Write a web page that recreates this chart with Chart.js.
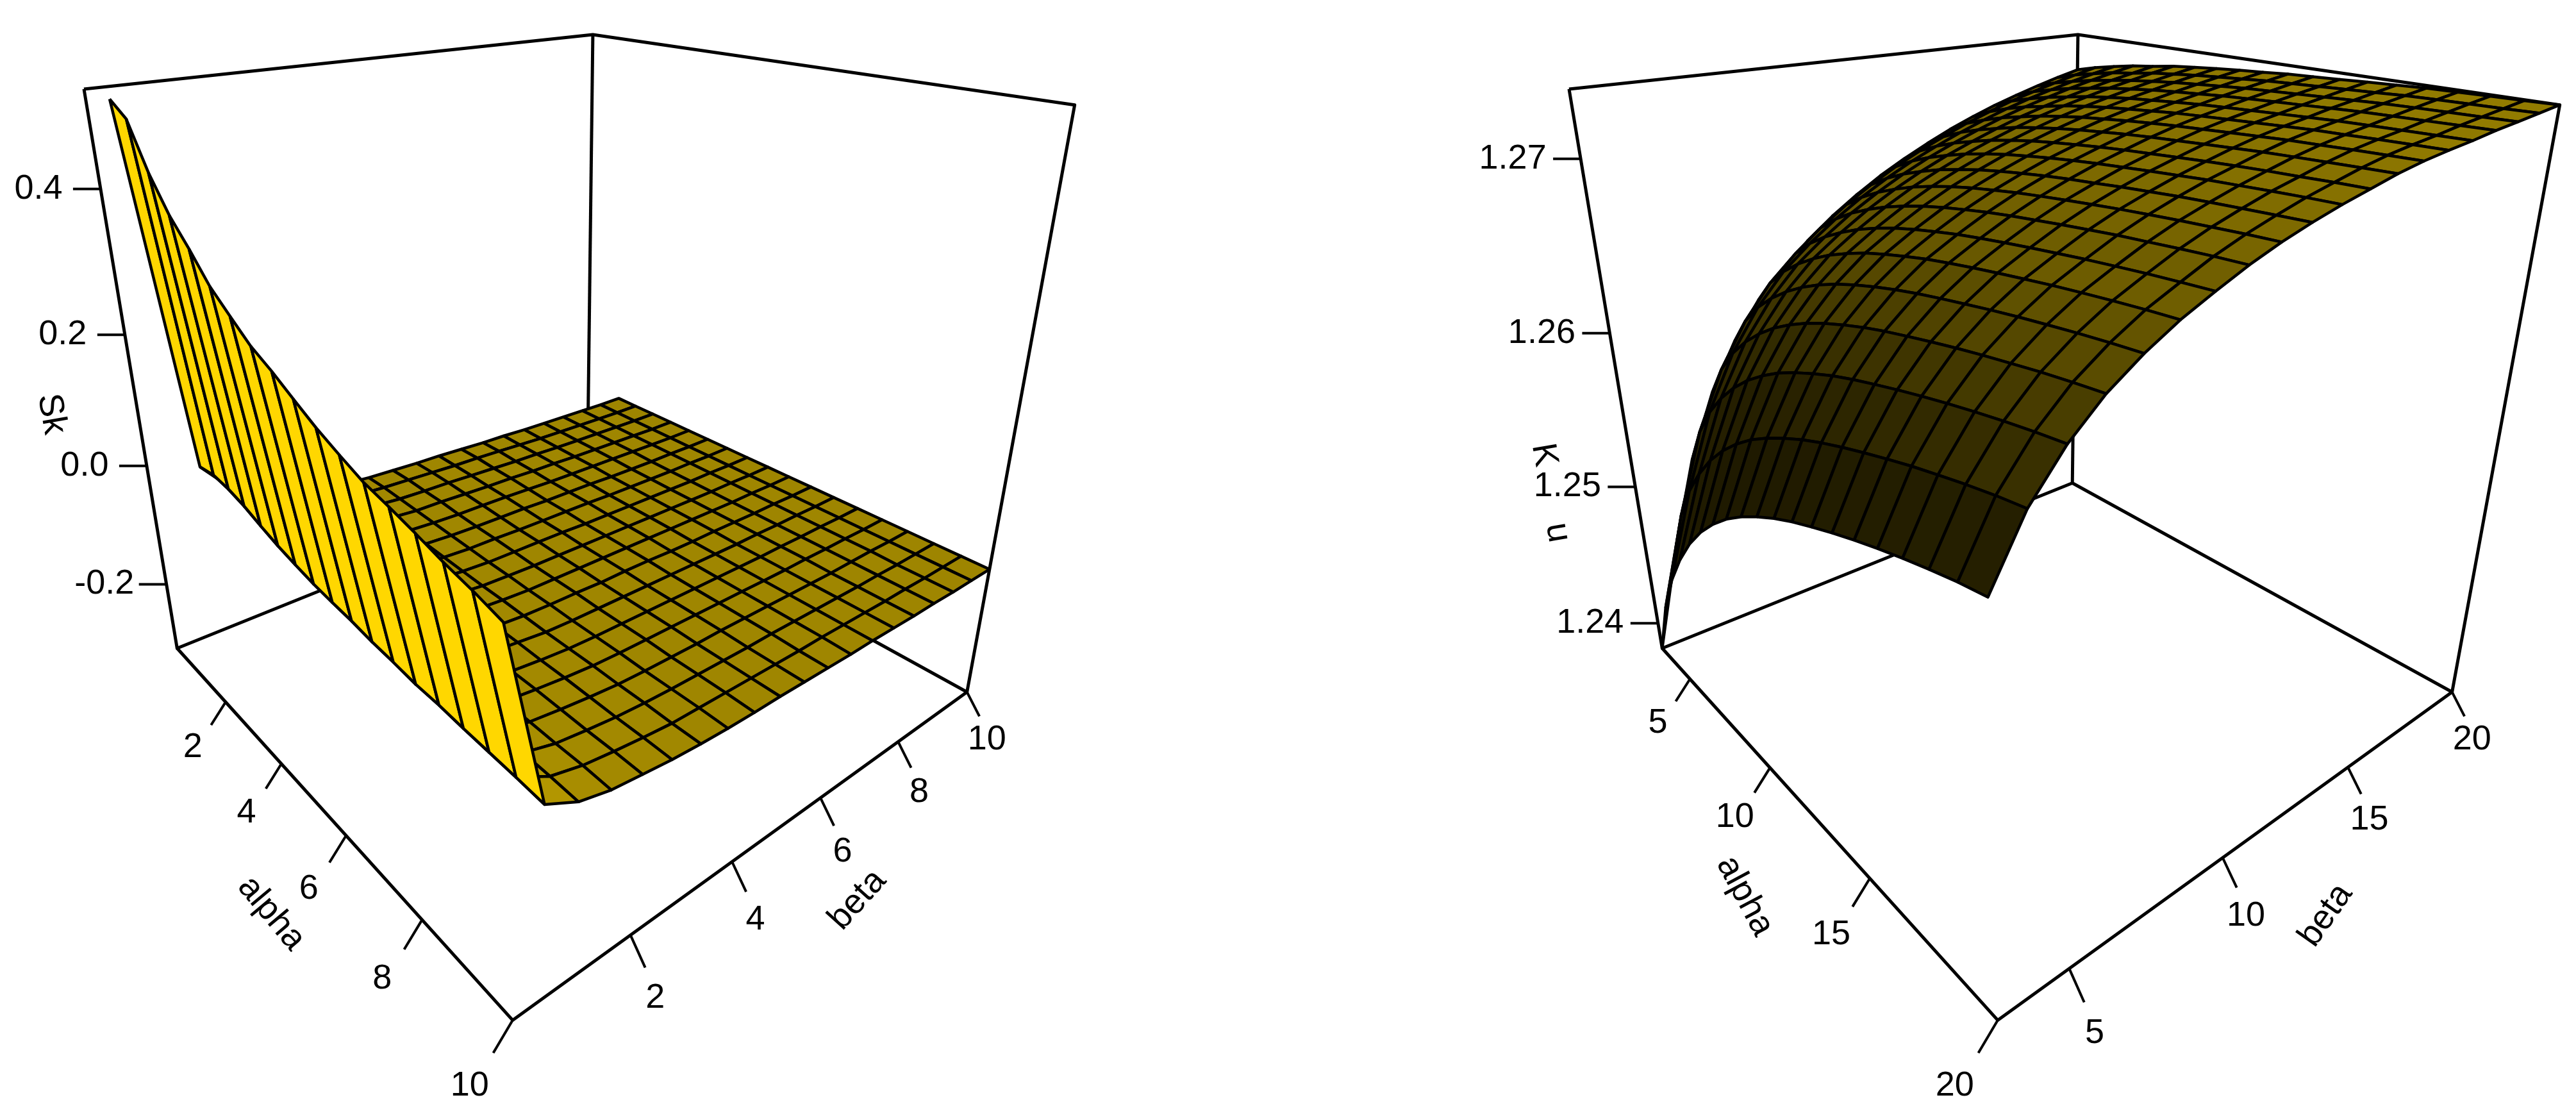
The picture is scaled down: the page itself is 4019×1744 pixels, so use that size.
<!DOCTYPE html>
<html>
<head>
<meta charset="utf-8">
<title>Sk and Ku surfaces</title>
<style>
body{margin:0;background:#fff}
canvas{position:absolute;top:0}
</style>
<script src="https://cdn.jsdelivr.net/npm/chart.js@4"></script>
</head>
<body>
<canvas id="skChart" width="2200" height="1744" style="left:0"></canvas>
<canvas id="kuChart" width="1819" height="1744" style="left:2200px"></canvas>
<script>
const skAlpha = [1,1.53,2.06,2.59,3.12,3.65,4.18,4.71,5.24,5.76,6.29,6.82,7.35,7.88,8.41,8.94,9.47,10];
const skBeta = [0,0.53,1.05,1.58,2.11,2.63,3.16,3.68,4.21,4.74,5.26,5.79,6.32,6.84,7.37,7.89,8.42,8.95,9.47,10];
const kuAlpha = [3,3.89,4.79,5.68,6.58,7.47,8.37,9.26,10.16,11.05,11.95,12.84,13.74,14.63,15.53,16.42,17.32,18.21,19.11,20];
const kuBeta = [3,3.89,4.79,5.68,6.58,7.47,8.37,9.26,10.16,11.05,11.95,12.84,13.74,14.63,15.53,16.42,17.32,18.21,19.11,20];

// one row per beta, one column per alpha
const skValues = [
  [.524,.507,.452,.411,.381,.348,.325,.303,.288,.271,.254,.240,.227,.219,.210,.200,.192,.182],
  [.017,.022,.019,.012,.002,-.007,-.014,-.020,-.024,-.027,-.032,-.035,-.039,-.040,-.043,-.045,-.047,-.050],
  [-.034,-.031,-.033,-.037,-.043,-.048,-.052,-.056,-.058,-.060,-.063,-.064,-.067,-.067,-.069,-.070,-.071,-.073],
  [-.057,-.055,-.056,-.059,-.063,-.066,-.069,-.072,-.073,-.074,-.076,-.078,-.079,-.080,-.081,-.082,-.082,-.084],
  [-.069,-.068,-.069,-.071,-.074,-.076,-.078,-.080,-.081,-.082,-.084,-.085,-.086,-.086,-.087,-.088,-.088,-.089],
  [-.079,-.078,-.079,-.080,-.082,-.084,-.086,-.087,-.088,-.089,-.090,-.090,-.091,-.091,-.092,-.093,-.093,-.094],
  [-.086,-.086,-.086,-.087,-.089,-.090,-.091,-.092,-.093,-.093,-.094,-.095,-.095,-.095,-.096,-.096,-.097,-.097],
  [-.090,-.089,-.090,-.091,-.092,-.093,-.094,-.095,-.095,-.096,-.096,-.097,-.097,-.097,-.098,-.098,-.098,-.099],
  [-.092,-.091,-.092,-.092,-.094,-.095,-.095,-.096,-.097,-.097,-.097,-.098,-.098,-.098,-.099,-.099,-.099,-.100],
  [-.094,-.093,-.093,-.094,-.095,-.096,-.097,-.097,-.098,-.098,-.099,-.099,-.099,-.099,-.100,-.100,-.100,-.100],
  [-.095,-.095,-.095,-.096,-.096,-.097,-.098,-.098,-.099,-.099,-.099,-.100,-.100,-.100,-.100,-.101,-.101,-.101],
  [-.097,-.096,-.097,-.097,-.098,-.099,-.099,-.100,-.100,-.100,-.100,-.101,-.101,-.101,-.101,-.101,-.102,-.102],
  [-.099,-.098,-.099,-.099,-.100,-.100,-.100,-.101,-.101,-.101,-.102,-.102,-.102,-.102,-.102,-.102,-.102,-.103],
  [-.100,-.100,-.100,-.100,-.101,-.101,-.102,-.102,-.102,-.102,-.103,-.103,-.103,-.103,-.103,-.103,-.103,-.103],
  [-.102,-.102,-.102,-.102,-.102,-.103,-.103,-.103,-.103,-.103,-.103,-.104,-.104,-.104,-.104,-.104,-.104,-.104],
  [-.103,-.103,-.103,-.103,-.103,-.104,-.104,-.104,-.104,-.104,-.104,-.104,-.104,-.104,-.105,-.105,-.105,-.105],
  [-.104,-.104,-.104,-.104,-.104,-.105,-.105,-.105,-.105,-.105,-.105,-.105,-.105,-.105,-.105,-.105,-.105,-.105],
  [-.105,-.105,-.105,-.105,-.105,-.105,-.105,-.105,-.105,-.105,-.105,-.105,-.105,-.105,-.105,-.106,-.106,-.106],
  [-.106,-.106,-.106,-.106,-.106,-.106,-.106,-.106,-.106,-.106,-.106,-.106,-.106,-.106,-.106,-.106,-.106,-.106],
  [-.106,-.106,-.106,-.106,-.106,-.106,-.106,-.106,-.106,-.106,-.106,-.106,-.106,-.106,-.106,-.106,-.106,-.106]
];

const kuValues = [
  [1.23804,1.24214,1.24516,1.24748,1.24944,1.25104,1.25239,1.25353,1.25450,1.25532,1.25606,1.25670,1.25727,1.25781,1.25831,1.25877,1.25920,1.25959,1.25995,1.26023],
  [1.24481,1.24815,1.25063,1.25253,1.25414,1.25546,1.25658,1.25753,1.25833,1.25902,1.25965,1.26019,1.26068,1.26113,1.26156,1.26196,1.26232,1.26266,1.26297,1.26322],
  [1.25058,1.25325,1.25523,1.25675,1.25803,1.25909,1.25998,1.26074,1.26137,1.26192,1.26242,1.26284,1.26322,1.26358,1.26392,1.26423,1.26452,1.26478,1.26502,1.26522],
  [1.25464,1.25684,1.25847,1.25973,1.26078,1.26166,1.26239,1.26301,1.26354,1.26399,1.26440,1.26475,1.26506,1.26535,1.26563,1.26588,1.26611,1.26633,1.26652,1.26668],
  [1.25763,1.25949,1.26087,1.26193,1.26282,1.26356,1.26418,1.26471,1.26515,1.26553,1.26587,1.26617,1.26643,1.26667,1.26691,1.26712,1.26731,1.26749,1.26765,1.26778],
  [1.25988,1.26148,1.26267,1.26359,1.26436,1.26501,1.26554,1.26600,1.26638,1.26671,1.26702,1.26727,1.26750,1.26771,1.26791,1.26810,1.26827,1.26842,1.26856,1.26867],
  [1.26155,1.26297,1.26402,1.26484,1.26552,1.26610,1.26658,1.26699,1.26733,1.26762,1.26790,1.26812,1.26833,1.26852,1.26870,1.26887,1.26902,1.26916,1.26928,1.26939],
  [1.26297,1.26424,1.26518,1.26592,1.26653,1.26705,1.26748,1.26785,1.26816,1.26843,1.26868,1.26889,1.26908,1.26926,1.26943,1.26959,1.26972,1.26985,1.26997,1.27006],
  [1.26422,1.26535,1.26619,1.26685,1.26740,1.26788,1.26827,1.26861,1.26889,1.26913,1.26936,1.26955,1.26973,1.26989,1.27005,1.27019,1.27032,1.27043,1.27054,1.27063],
  [1.26529,1.26630,1.26706,1.26766,1.26815,1.26858,1.26893,1.26924,1.26950,1.26972,1.26993,1.27011,1.27026,1.27042,1.27056,1.27070,1.27081,1.27091,1.27101,1.27110],
  [1.26625,1.26716,1.26784,1.26838,1.26882,1.26922,1.26954,1.26982,1.27005,1.27026,1.27045,1.27061,1.27076,1.27090,1.27103,1.27116,1.27126,1.27136,1.27145,1.27152],
  [1.26707,1.26789,1.26850,1.26899,1.26939,1.26976,1.27005,1.27031,1.27052,1.27071,1.27089,1.27104,1.27117,1.27130,1.27143,1.27154,1.27164,1.27172,1.27181,1.27188],
  [1.26782,1.26855,1.26911,1.26956,1.26992,1.27027,1.27053,1.27077,1.27097,1.27114,1.27131,1.27145,1.27157,1.27169,1.27181,1.27192,1.27201,1.27209,1.27217,1.27224],
  [1.26850,1.26916,1.26966,1.27007,1.27040,1.27071,1.27095,1.27117,1.27135,1.27152,1.27167,1.27180,1.27191,1.27202,1.27213,1.27224,1.27231,1.27239,1.27246,1.27252],
  [1.26910,1.26969,1.27015,1.27052,1.27081,1.27110,1.27132,1.27152,1.27168,1.27183,1.27198,1.27209,1.27219,1.27229,1.27239,1.27249,1.27255,1.27262,1.27268,1.27273],
  [1.26963,1.27017,1.27058,1.27091,1.27118,1.27144,1.27164,1.27183,1.27197,1.27211,1.27224,1.27234,1.27243,1.27252,1.27261,1.27270,1.27276,1.27281,1.27286,1.27291],
  [1.27010,1.27058,1.27095,1.27127,1.27151,1.27176,1.27194,1.27211,1.27225,1.27237,1.27250,1.27259,1.27268,1.27276,1.27285,1.27293,1.27298,1.27303,1.27308,1.27313],
  [1.27053,1.27096,1.27130,1.27159,1.27181,1.27204,1.27221,1.27237,1.27249,1.27261,1.27273,1.27281,1.27289,1.27297,1.27305,1.27313,1.27318,1.27322,1.27326,1.27330],
  [1.27092,1.27131,1.27162,1.27189,1.27208,1.27231,1.27246,1.27261,1.27273,1.27284,1.27295,1.27303,1.27310,1.27318,1.27325,1.27333,1.27337,1.27341,1.27344,1.27348],
  [1.27127,1.27163,1.27191,1.27216,1.27234,1.27256,1.27270,1.27284,1.27295,1.27305,1.27316,1.27323,1.27330,1.27338,1.27345,1.27352,1.27355,1.27359,1.27362,1.27366]
];

const skAlphaTicks = [2,4,6,8,10];
const skBetaTicks = [2,4,6,8,10];
const skZTicks = [-0.2,0,0.2,0.4];
const kuAlphaTicks = [5,10,15,20];
const kuBetaTicks = [5,10,15,20];
const kuZTicks = [1.24,1.25,1.26,1.27];

// camera of the 3d box, box coordinates 0..1 to page pixels
const view = [264.47876,888.17708,-171.15552,276.33106,64.83125,-53.60753,-899.71812,1011.29655,-0.3238,0.27098,-0.19698];

function project(u, v, w) {
  const d = view[8]*u + view[9]*v + view[10]*w + 1;
  return {
    x: (view[0]*u + view[1]*v + view[2]*w + view[3]) / d,
    y: (view[4]*u + view[5]*v + view[6]*w + view[7]) / d
  };
}

function drawPanel(id, cfg) {
  const U = a => (a - cfg.aLim[0]) / (cfg.aLim[1] - cfg.aLim[0]);
  const V = b => (b - cfg.bLim[0]) / (cfg.bLim[1] - cfg.bLim[0]);
  const W = z => (z - cfg.zLim[0]) / (cfg.zLim[1] - cfg.zLim[0]);
  const datasets = [];
  const labels = [];
  let behind = 0, front = 0;

  const addLine = (data, width) => datasets.push({
    data, showLine: true, borderColor: '#000', borderWidth: width, pointRadius: 0, fill: false,
    borderJoinStyle: 'round', order: 100000 - behind++
  });

  // box
  addLine([project(0,0,1), project(0,1,1), project(1,1,1), project(1,1,0), project(0,1,0), project(0,0,0), project(0,0,1)], 5);
  addLine([project(0,1,0), project(0,1,1)], 5);
  addLine([project(0,0,0), project(1,0,0), project(1,1,0)], 5);

  // ticks
  cfg.aTicks.forEach(a => {
    addLine([project(U(a),0,0), project(U(a),-0.031,-0.033)], 4);
    const p = project(U(a),-0.068,-0.061);
    labels.push({text: String(a), x: p.x, y: p.y, rot: 0});
  });
  cfg.bTicks.forEach(b => {
    addLine([project(1,V(b),0), project(1.03,V(b),-0.034)], 4);
    const p = project(1.051,V(b),-0.072);
    labels.push({text: String(b), x: p.x, y: p.y, rot: 0});
  });
  cfg.zTicks.forEach(z => {
    const p = project(0,0,W(z));
    addLine([p, {x: p.x - 43, y: p.y}], 4);
    labels.push({text: z.toFixed(cfg.zDigits), x: p.x - cfg.zLabelGap, y: p.y, rot: 0});
  });
  cfg.titles.forEach(t => labels.push(t));

  // surface, far cells first
  const g = cfg.values;
  for (let j = cfg.beta.length - 2; j >= 0; j--) {
    for (let i = 0; i < cfg.alpha.length - 1; i++) {
      const cell = [[i,j],[i+1,j],[i+1,j+1],[i,j+1],[i,j]].map(([p,q]) => project(U(cfg.alpha[p]), V(cfg.beta[q]), W(g[q][p])));
      const du = (W(g[j][i+1]) + W(g[j+1][i+1]) - W(g[j][i]) - W(g[j+1][i])) / 2 / (U(cfg.alpha[i+1]) - U(cfg.alpha[i]));
      const dv = (W(g[j+1][i]) + W(g[j+1][i+1]) - W(g[j][i]) - W(g[j][i+1])) / 2 / (V(cfg.beta[j+1]) - V(cfg.beta[j]));
      let cos = -dv * cfg.slope / Math.hypot(du * cfg.slope, dv * cfg.slope, 1);
      if (cos > 0) cos = Math.min(1, cos * 1.2);
      const shade = Math.pow((1 + cos) / 2, 0.69);
      datasets.push({
        data: cell, showLine: true, borderColor: '#000', borderWidth: 4.5, pointRadius: 0,
        fill: 'shape', backgroundColor: `rgb(${Math.round(255*shade)},${Math.round(215*shade)},0)`,
        borderJoinStyle: 'round', order: 50000 - front++
      });
    }
  }

  new Chart(document.getElementById(id), {
    type: 'scatter',
    data: {datasets},
    plugins: [{
      id: 'axisText',
      afterDatasetsDraw(chart) {
        const ctx = chart.ctx;
        ctx.save();
        ctx.fillStyle = '#000';
        ctx.textAlign = 'center';
        ctx.textBaseline = 'middle';
        ctx.font = '54px "Liberation Sans"';
        labels.forEach(l => {
          ctx.save();
          ctx.translate(chart.scales.x.getPixelForValue(l.x), chart.scales.y.getPixelForValue(l.y));
          ctx.rotate(l.rot * Math.PI / 180);
          ctx.fillText(l.text, 0, 0);
          ctx.restore();
        });
        ctx.restore();
      }
    }],
    options: {
      responsive: false,
      devicePixelRatio: 1,
      animation: false,
      events: [],
      layout: {padding: 0},
      plugins: {legend: {display: false}, tooltip: {enabled: false}},
      scales: {
        x: {type: 'linear', display: false, min: cfg.xRange[0], max: cfg.xRange[1]},
        y: {type: 'linear', display: false, min: 0, max: 1744, reverse: true}
      }
    }
  });
}

drawPanel('skChart', {
  alpha: skAlpha, beta: skBeta, values: skValues,
  aLim: [0,10], bLim: [0,10], zLim: [-0.3166,0.525],
  aTicks: skAlphaTicks, bTicks: skBetaTicks, zTicks: skZTicks,
  zDigits: 1, zLabelGap: 97, slope: 0.3, xRange: [0,2200],
  titles: [
    {text: 'Sk', x: 80, y: 646, rot: 80},
    {text: 'alpha', x: 423, y: 1425, rot: 50},
    {text: 'beta', x: 1338, y: 1404, rot: -48}
  ]
});

drawPanel('kuChart', {
  alpha: kuAlpha, beta: kuBeta, values: kuValues,
  aLim: [3,20], bLim: [3,20], zLim: [1.23804,1.27366],
  aTicks: kuAlphaTicks, bTicks: kuBetaTicks, zTicks: kuZTicks,
  zDigits: 2, zLabelGap: 106, slope: 1.15, xRange: [-117,1702],
  titles: [
    {text: 'K      u', x: 102, y: 769, rot: 80},
    {text: 'alpha', x: 405, y: 1398, rot: 62},
    {text: 'beta', x: 1312, y: 1428, rot: -55}
  ]
});
</script>
</body>
</html>
